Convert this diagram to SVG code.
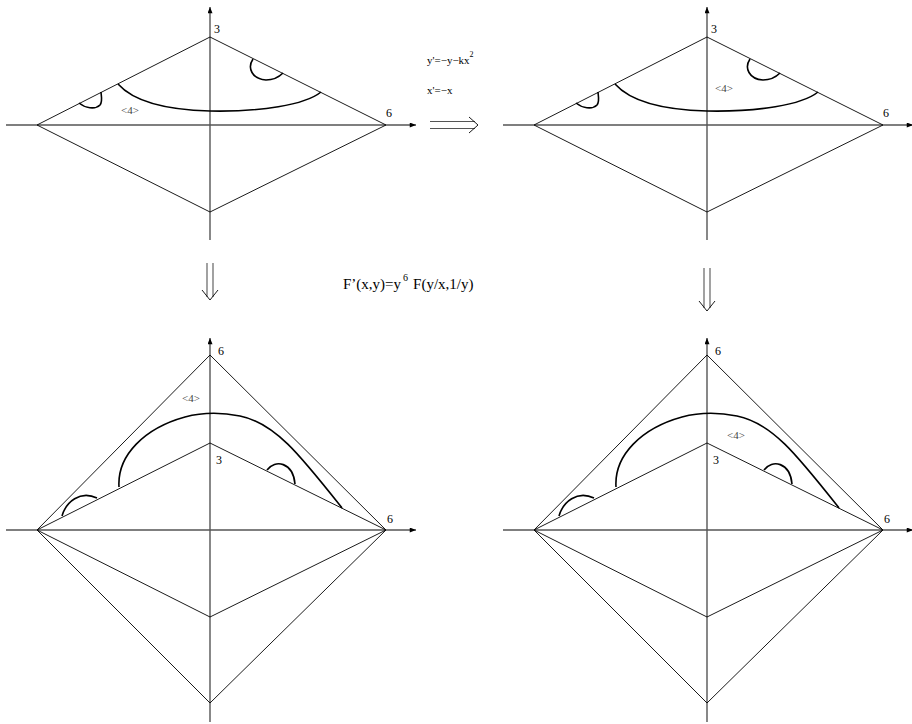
<svg xmlns="http://www.w3.org/2000/svg" width="912" height="724" viewBox="0 0 912 724">
<style>
.axis{stroke:#555;stroke-width:1.4;fill:none}
.edge{stroke:#000;stroke-width:0.9;fill:none}
.curve{stroke:#000;stroke-width:1.6;fill:none}
.lbl{font-family:"Liberation Serif","Times New Roman",serif;font-size:12px;fill:#000}
.tag{font-family:"Liberation Serif","Times New Roman",serif;font-size:11px;fill:#444}
.eq{font-family:"Liberation Serif","Times New Roman",serif;font-size:11px;fill:#000}
.big{font-family:"Liberation Serif","Times New Roman",serif;font-size:15px;fill:#000}
.dbl{stroke:#555;stroke-width:1.1;fill:none}
</style>
<defs>
<marker id="ah" viewBox="0 0 10 8" refX="10" refY="4" markerWidth="9" markerHeight="5" orient="auto" markerUnits="userSpaceOnUse">
<path d="M0,0 L10,4 L0,8 z" fill="#000"/>
</marker>
<g id="topShape">
<line class="axis" x1="6" y1="125" x2="416" y2="125" marker-end="url(#ah)"/>
<line class="axis" x1="210" y1="240" x2="210" y2="7" marker-end="url(#ah)"/>
<polygon class="edge" points="37,125 210,37 386,125 210,212"/>
<path class="curve" d="M118,84 C135,103 170,110 210,111 C260,112 305,105 321,92"/>
<path class="curve" d="M79,103 C85,108 95,110 100,105 C103,101 101,95 101,92"/>
<path class="curve" d="M253,59 C247,68 252,79 266,80 C274,80 279,77 283,73"/>
<text class="lbl" x="214" y="33">3</text>
<text class="lbl" x="386" y="117">6</text>
</g>
<g id="botShape">
<line class="axis" x1="6" y1="530" x2="416" y2="530" marker-end="url(#ah)"/>
<line class="axis" x1="210" y1="722" x2="210" y2="338" marker-end="url(#ah)"/>
<polygon class="edge" points="37,530 210,355 386,530 210,703"/>
<polygon class="edge" points="37,530 210,443 386,530 210,617"/>
<path class="curve" d="M119,487 C117,455 145,428 185,417 C200,413 220,412 240,416 C275,423 300,455 342,508"/>
<path class="curve" d="M62,516 C66,502 80,490 97,498"/>
<path class="curve" d="M267,470 C275,459 293,462 295,484"/>
<text class="lbl" x="218" y="355">6</text>
<text class="lbl" x="216" y="464">3</text>
<text class="lbl" x="387" y="523">6</text>
</g>
</defs>
<g id="diagram-top-left">
<use href="#topShape"/>
<text class="tag" x="121" y="114">&lt;4&gt;</text>
</g>
<g id="diagram-top-right">
<use href="#topShape" transform="translate(497,0)"/>
<text class="tag" x="715" y="92">&lt;4&gt;</text>
</g>
<g id="diagram-bottom-left">
<use href="#botShape"/>
<text class="tag" x="182" y="402">&lt;4&gt;</text>
</g>
<g id="diagram-bottom-right">
<use href="#botShape" transform="translate(497,0)"/>
<text class="tag" x="727" y="439">&lt;4&gt;</text>
</g>
<g id="connectors">
<g id="arrow-right">
<line class="dbl" x1="430" y1="121.5" x2="475" y2="121.5"/>
<line class="dbl" x1="430" y1="128.5" x2="475" y2="128.5"/>
<polyline class="edge" points="469,117 478,125 469,133"/>
</g>
<g id="arrow-down-left">
<line class="dbl" x1="207" y1="263" x2="207" y2="297"/>
<line class="dbl" x1="213" y1="263" x2="213" y2="297"/>
<polyline class="edge" points="202,290 210,300 218,290"/>
</g>
<g id="arrow-down-right">
<line class="dbl" x1="704" y1="268" x2="704" y2="308"/>
<line class="dbl" x1="710" y1="268" x2="710" y2="308"/>
<polyline class="edge" points="699,301 707,311 715,301"/>
</g>
</g>
<g id="labels">
<text class="eq" x="427" y="64">y'=−y−kx<tspan dy="-7" font-size="8">2</tspan></text>
<text class="eq" x="427" y="94">x'=−x</text>
<text class="big" x="343" y="289">F’(x,y)=y<tspan dx="2" dy="-8" font-size="10">6</tspan><tspan dx="5" dy="8">F(y/x,1/y)</tspan></text>
</g>
</svg>
